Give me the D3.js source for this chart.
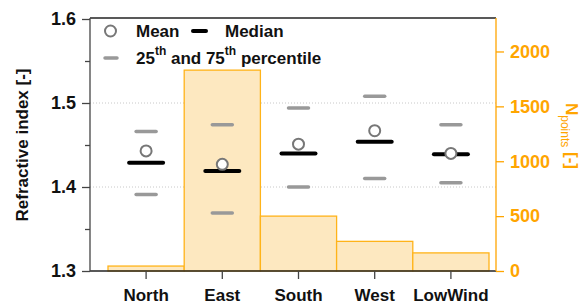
<!DOCTYPE html>
<html>
<head>
<meta charset="utf-8">
<script src="https://cdn.jsdelivr.net/npm/d3@7"></script>
<style>
  body { margin: 0; background: #fff; }
  text { font-family: "Liberation Sans", Arial, sans-serif; font-weight: bold; }
</style>
</head>
<body>
<svg id="canvas"></svg>
<script>
let categories = ['North', 'East', 'South', 'West', 'LowWind']
let nPoints = [45, 1830, 500, 270, 165]
let means = [1.443, 1.427, 1.451, 1.467, 1.440]
let medians = [1.429, 1.419, 1.440, 1.454, 1.439]
let p25 = [1.391, 1.369, 1.400, 1.410, 1.405]
let p75 = [1.466, 1.474, 1.494, 1.508, 1.474]
let leftTicks = [1.3, 1.4, 1.5, 1.6]
let leftMinor = [1.35, 1.45, 1.55]
let rightTicks = [0, 500, 1000, 1500, 2000]
let gridValues = [1.4, 1.5]

let width = 582
let height = 305
let plotLeft = 90
let plotRight = 496
let plotTop = 18
let plotBottom = 271
let orange = '#ffa500'

let svg = d3.select('#canvas')
svg.attr('width', width)
svg.attr('height', height)

let xScale = d3.scaleBand()
    .domain(categories)
    .range([108, 489])
    .padding(0)

let yScale = d3.scaleLinear()
    .domain([1.3, 1.6])
    .range([plotBottom, 19])

let nScale = d3.scaleLinear()
    .domain([0, 2305])
    .range([plotBottom, plotTop])

let cx = (i) => xScale(categories[i]) + xScale.bandwidth() / 2

// grid
svg.selectAll('.grid')
    .data(gridValues)
    .enter()
    .append('line')
    .attr('x1', plotLeft).attr('x2', plotRight)
    .attr('y1', (d) => yScale(d)).attr('y2', (d) => yScale(d))
    .attr('stroke', '#c8c8c8')
    .attr('stroke-width', 1)
    .attr('stroke-dasharray', '1,2')

// bars
svg.selectAll('.bar')
    .data(nPoints)
    .enter()
    .append('rect')
    .attr('x', (d, i) => xScale(categories[i]))
    .attr('width', xScale.bandwidth())
    .attr('y', (d) => nScale(d))
    .attr('height', (d) => plotBottom - nScale(d))
    .attr('fill', '#fde8c0')
    .attr('stroke', '#ffb319')
    .attr('stroke-width', 1.3)

// percentiles + median
let drawDash = (vals, w, sw, col) => {
    svg.append('g').selectAll('line')
        .data(vals)
        .enter()
        .append('line')
        .attr('x1', (d, i) => cx(i) - w / 2)
        .attr('x2', (d, i) => cx(i) + w / 2)
        .attr('y1', (d) => yScale(d))
        .attr('y2', (d) => yScale(d))
        .attr('stroke', col)
        .attr('stroke-width', sw)
        .attr('stroke-linecap', 'round')
}
drawDash(p25, 20, 3.5, '#999999')
drawDash(p75, 20, 3.5, '#999999')
drawDash(medians, 34, 4, '#000000')

svg.append('g').selectAll('circle')
    .data(means)
    .enter()
    .append('circle')
    .attr('cx', (d, i) => cx(i))
    .attr('cy', (d) => yScale(d))
    .attr('r', 5.5)
    .attr('fill', '#fff')
    .attr('stroke', '#777')
    .attr('stroke-width', 2)

// frame
svg.append('line')
    .attr('x1', plotLeft).attr('x2', plotRight)
    .attr('y1', plotTop).attr('y2', plotTop)
    .attr('stroke', '#222').attr('stroke-width', 1.3)
svg.append('line')
    .attr('x1', plotLeft).attr('x2', plotRight)
    .attr('y1', plotBottom).attr('y2', plotBottom)
    .attr('stroke', '#222').attr('stroke-width', 1.3)

// left axis
let yAxis = d3.axisLeft(yScale)
    .tickValues(leftTicks)
    .tickSize(8)
    .tickPadding(6)
    .tickFormat(d3.format('.1f'))
let gy = svg.append('g')
    .attr('transform', 'translate(' + plotLeft + ',0)')
    .call(yAxis)
gy.select('.domain').attr('d', 'M0,' + plotTop + 'V' + plotBottom).attr('stroke', '#444').attr('stroke-width', 1.3)
gy.selectAll('.tick line').attr('stroke', '#444').attr('stroke-width', 1.3)
gy.selectAll('.tick text').attr('font-size', 18).attr('fill', '#111')
let yMinor = d3.axisLeft(yScale).tickValues(leftMinor).tickSize(5).tickFormat('')
let gym = svg.append('g').attr('transform', 'translate(' + plotLeft + ',0)').call(yMinor)
gym.select('.domain').remove()
gym.selectAll('.tick line').attr('stroke', '#444').attr('stroke-width', 1.3)

// right axis
let nAxis = d3.axisRight(nScale)
    .tickValues(rightTicks)
    .tickSize(8)
    .tickPadding(6)
    .tickFormat(d3.format('d'))
let gn = svg.append('g')
    .attr('transform', 'translate(' + plotRight + ',0)')
    .call(nAxis)
gn.select('.domain').attr('d', 'M0,' + plotTop + 'V' + plotBottom).attr('stroke', orange).attr('stroke-width', 1.3)
gn.selectAll('.tick line').attr('stroke', orange).attr('stroke-width', 1.3)
gn.selectAll('.tick text').attr('font-size', 18).attr('fill', orange)

// bottom axis
let xAxis = d3.axisBottom(xScale).tickSize(8).tickPadding(10)
let gx = svg.append('g')
    .attr('transform', 'translate(0,' + plotBottom + ')')
    .call(xAxis)
gx.select('.domain').remove()
gx.selectAll('.tick line').attr('stroke', '#444').attr('stroke-width', 1.3)
gx.selectAll('.tick text').attr('font-size', 17).attr('fill', '#111')

// axis titles
svg.append('text')
    .attr('transform', 'translate(28,145) rotate(-90)')
    .attr('text-anchor', 'middle')
    .attr('font-size', 17)
    .attr('fill', '#111')
    .text('Refractive index [-]')

let rt = svg.append('text')
    .attr('transform', 'translate(566,136) rotate(90)')
    .attr('text-anchor', 'middle')
    .attr('font-size', 17)
    .attr('fill', orange)
rt.append('tspan').text('N')
rt.append('tspan').attr('font-size', 12).attr('font-weight', 'normal').attr('dy', 5).text('points')
rt.append('tspan').attr('dy', -5).text(' [-]')

// legend
svg.append('circle')
    .attr('cx', 110.5).attr('cy', 31).attr('r', 5.5)
    .attr('fill', '#fff').attr('stroke', '#777').attr('stroke-width', 2)
svg.append('text').attr('x', 136).attr('y', 37).attr('font-size', 17).attr('fill', '#111').text('Mean')
svg.append('line')
    .attr('x1', 193).attr('x2', 206).attr('y1', 31).attr('y2', 31)
    .attr('stroke', '#000').attr('stroke-width', 4).attr('stroke-linecap', 'round')
svg.append('text').attr('x', 225).attr('y', 37).attr('font-size', 17).attr('fill', '#111').text('Median')
svg.append('line')
    .attr('x1', 105).attr('x2', 117).attr('y1', 58).attr('y2', 58)
    .attr('stroke', '#999').attr('stroke-width', 3.5).attr('stroke-linecap', 'round')
let lt = svg.append('text').attr('x', 136).attr('y', 64).attr('font-size', 17).attr('fill', '#111')
lt.append('tspan').text('25')
lt.append('tspan').attr('font-size', 12).attr('dy', -9).text('th')
lt.append('tspan').attr('dy', 9).text(' and 75')
lt.append('tspan').attr('font-size', 12).attr('dy', -9).text('th')
lt.append('tspan').attr('dy', 9).text(' percentile')
</script>
</body>
</html>
